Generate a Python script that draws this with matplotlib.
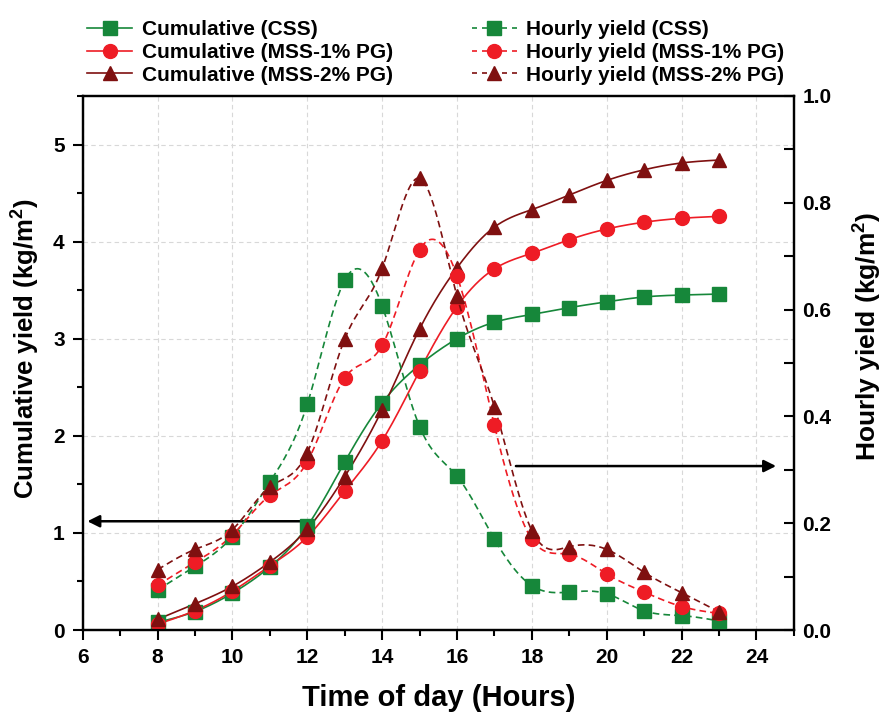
import numpy as np
import matplotlib
matplotlib.use('Agg')
from matplotlib import pyplot as plt
from matplotlib.ticker import MultipleLocator

plt.rcParams['font.family'] = ['Liberation Sans', 'DejaVu Sans']
plt.rcParams['font.weight'] = 'bold'
plt.rcParams['mathtext.default'] = 'regular'

# time of day (hours)
hours = [8, 9, 10, 11, 12, 13, 14, 15, 16, 17, 18, 19, 20, 21, 22, 23]

# cumulative yield (kg/m2)
cum_css = [0.08, 0.19, 0.38, 0.65, 1.07, 1.73, 2.34, 2.73, 3.00, 3.17, 3.25, 3.32, 3.38, 3.43, 3.45, 3.46]
cum_mss1 = [0.06, 0.20, 0.40, 0.66, 0.96, 1.43, 1.95, 2.67, 3.33, 3.72, 3.88, 4.02, 4.13, 4.20, 4.24, 4.26]
cum_mss2 = [0.11, 0.27, 0.45, 0.70, 1.04, 1.58, 2.27, 3.10, 3.73, 4.15, 4.33, 4.48, 4.63, 4.74, 4.81, 4.84]

# hourly yield (kg/m2)
hr_css = [0.075, 0.119, 0.175, 0.277, 0.423, 0.655, 0.607, 0.381, 0.288, 0.170, 0.083, 0.071, 0.068, 0.036, 0.027, 0.017]
hr_mss1 = [0.084, 0.127, 0.178, 0.252, 0.315, 0.472, 0.533, 0.712, 0.663, 0.383, 0.170, 0.142, 0.105, 0.071, 0.044, 0.031]
hr_mss2 = [0.113, 0.151, 0.188, 0.268, 0.332, 0.545, 0.677, 0.846, 0.625, 0.418, 0.186, 0.156, 0.151, 0.108, 0.070, 0.034]

green = '#16873a'
red = '#ee1c25'
dark = '#7f1010'


def smooth(x, y, n=400):
    # natural cubic spline through the points, only for drawing the curve
    x = np.asarray(x, float)
    y = np.asarray(y, float)
    k = len(x)
    h = np.diff(x)
    A = np.zeros((k, k))
    b = np.zeros(k)
    A[0, 0] = 1
    A[-1, -1] = 1
    for i in range(1, k - 1):
        A[i, i - 1] = h[i - 1]
        A[i, i] = 2 * (h[i - 1] + h[i])
        A[i, i + 1] = h[i]
        b[i] = 6 * ((y[i + 1] - y[i]) / h[i] - (y[i] - y[i - 1]) / h[i - 1])
    M = np.linalg.solve(A, b)
    xs = np.linspace(x[0], x[-1], n)
    idx = np.clip(np.searchsorted(x, xs) - 1, 0, k - 2)
    x0, x1 = x[idx], x[idx + 1]
    hh = x1 - x0
    t0 = x1 - xs
    t1 = xs - x0
    ys = (M[idx] * t0**3 + M[idx + 1] * t1**3) / (6 * hh) \
        + (y[idx] / hh - M[idx] * hh / 6) * t0 \
        + (y[idx + 1] / hh - M[idx + 1] * hh / 6) * t1
    return xs, ys


fig = plt.figure(figsize=(8.84, 7.13), dpi=100)
ax = fig.add_axes([0.0936, 0.1164, 0.8044, 0.749])
ax2 = ax.twinx()

series_cum = [(cum_css, green, 's', 'Cumulative (CSS)'),
              (cum_mss1, red, 'o', 'Cumulative (MSS-1% PG)'),
              (cum_mss2, dark, '^', 'Cumulative (MSS-2% PG)')]
series_hr = [(hr_css, green, 's', 'Hourly yield (CSS)'),
             (hr_mss1, red, 'o', 'Hourly yield (MSS-1% PG)'),
             (hr_mss2, dark, '^', 'Hourly yield (MSS-2% PG)')]

handles = []
for vals, c, m, lab in series_cum:
    xs, ys = smooth(hours, vals)
    ax.plot(xs, ys, color=c, lw=1.2, zorder=3)
    ax.plot(hours, vals, ls='none', marker=m, color=c, ms=10, zorder=4)
    handles.append(plt.Line2D([], [], color=c, lw=1.2, marker=m, ms=10, label=lab))
for vals, c, m, lab in series_hr:
    xs, ys = smooth(hours, vals)
    ax2.plot(xs, ys, color=c, lw=1.2, dashes=(4, 2.5), zorder=3)
    ax2.plot(hours, vals, ls='none', marker=m, color=c, ms=10, zorder=4)
    handles.append(plt.Line2D([], [], color=c, lw=1.2, dashes=(3, 3), marker=m, ms=10, label=lab))

ax.set_xlim(6, 25)
ax.set_ylim(0, 5.5)
ax2.set_ylim(0, 1.0)

ax.xaxis.set_major_locator(MultipleLocator(2))
ax.xaxis.set_minor_locator(MultipleLocator(1))
ax.yaxis.set_major_locator(MultipleLocator(1))
ax.yaxis.set_minor_locator(MultipleLocator(0.5))
ax2.yaxis.set_major_locator(MultipleLocator(0.2))
ax2.yaxis.set_minor_locator(MultipleLocator(0.1))
ax2.yaxis.set_major_formatter(matplotlib.ticker.FormatStrFormatter('%.1f'))

ax.grid(True, which='major', color='#d8d8d8', ls=(0, (4, 3)), lw=0.8)
ax.set_axisbelow(True)

ax.tick_params(axis='both', which='major', direction='out', length=7, width=1.5, labelsize=15, pad=6)
ax.tick_params(axis='both', which='minor', direction='out', length=4, width=1.5)
ax2.tick_params(axis='y', which='major', direction='in', length=7, width=1.5, labelsize=15, pad=6)
ax2.tick_params(axis='y', which='minor', direction='in', length=7, width=1.5)
for a in (ax, ax2):
    for s in a.spines.values():
        s.set_linewidth(1.6)

ax.set_xlabel('Time of day (Hours)', fontsize=21, fontweight='bold', labelpad=12)
ax.set_ylabel('Cumulative yield (kg/m$^2$)', fontsize=18.5, fontweight='bold')
ax2.set_ylabel('Hourly yield (kg/m$^2$)', fontsize=19, fontweight='bold')
ax.yaxis.set_label_coords(-0.057, 0.526)
ax2.yaxis.set_label_coords(1.081, 0.549)

# arrows pointing to the axis each group belongs to
ax.annotate('', xy=(6.05, 1.12), xytext=(12, 1.12),
            arrowprops=dict(arrowstyle='-|>', color='black', lw=1.8, mutation_scale=18))
ax2.annotate('', xy=(24.6, 0.307), xytext=(17.5, 0.307),
             arrowprops=dict(arrowstyle='-|>', color='black', lw=1.8, mutation_scale=18))

fig.legend(handles=handles, ncol=2, loc='upper left', bbox_to_anchor=(0.080, 0.995),
           frameon=False, fontsize=15, handlelength=2.15, handletextpad=0.45,
           columnspacing=3.8, labelspacing=0.18, borderpad=0.3)

fig.savefig('out.png', dpi=100)
